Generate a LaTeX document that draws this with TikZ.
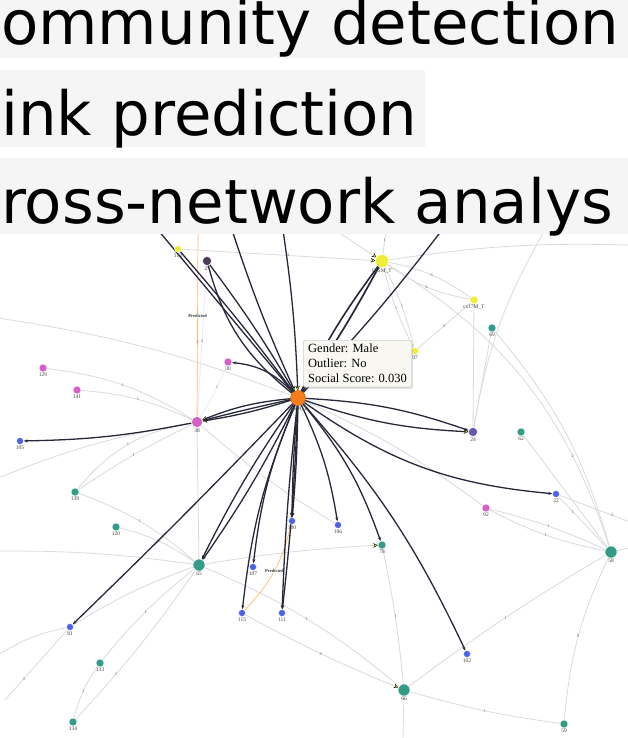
\documentclass[tikz,border=0pt]{standalone}
\usepackage{fontspec}
\setmainfont{Liberation Serif}
\newfontfamily\bandfont{DejaVu Sans}
\usetikzlibrary{arrows.meta,shadows}
\pgfdeclarelayer{background}
\pgfsetlayers{background,main}

\definecolor{tealnd}{RGB}{52,156,134}
\definecolor{bluend}{RGB}{78,98,232}
\definecolor{pinknd}{RGB}{212,96,200}
\definecolor{yellownd}{RGB}{240,238,52}
\definecolor{orangend}{RGB}{247,124,26}
\definecolor{purplend}{RGB}{106,88,176}
\definecolor{plumnd}{RGB}{76,62,88}
\definecolor{edgedark}{RGB}{38,40,58}
\definecolor{edgelight}{RGB}{218,218,222}
\definecolor{bandgray}{RGB}{245,245,245}
\definecolor{tipbg}{RGB}{248,247,241}

\begin{document}
\begin{tikzpicture}[
  x=1pt, y=-1pt,
  >=Stealth,
  nd/.style={circle,draw=white,line width=0.4pt,inner sep=0pt,minimum size=#1},
  tnode/.style={nd=8pt,fill=tealnd},
  bignode/.style={nd=12pt,fill=tealnd},
  bnode/.style={nd=7pt,fill=bluend},
  pnode/.style={nd=8pt,fill=pinknd},
  ynode/.style={nd=7pt,fill=yellownd},
  nlbl/.style={font=\fontsize{5.5}{5.5}\selectfont,text=black!75,inner sep=0.5pt,label distance=0pt},
  elbl/.style={font=\fontsize{4.5}{5}\selectfont,text=black!55,inner sep=0.5pt},
  plbl/.style={font=\fontsize{4.5}{5}\selectfont\bfseries,text=black!80,fill=white,inner sep=0.6pt},
  link/.style={draw=edgedark,line width=1.3pt},
  linkto/.style={link,-{Stealth[length=4pt,width=3pt]}},
  ytip/.style={-{Stealth[length=4.5pt,width=4.5pt,fill=yellownd,color=black,line width=0.3pt]}},
  weak/.style={draw=edgelight,line width=0.8pt},
  pinkline/.style={draw=pinknd!18,line width=0.8pt},
  pred/.style={draw=orange!55,line width=0.7pt},
  tip/.style={draw=black!30,fill=tipbg,rounded corners=1.5pt,align=left,
    font=\fontsize{12.5}{15}\selectfont,inner xsep=5pt,inner ysep=4pt,
    drop shadow={opacity=0.2,shadow xshift=1.2pt,shadow yshift=-1.8pt}},
  bandtxt/.style={anchor=base west,inner sep=0pt,font=\bandfont\fontsize{61}{61}\selectfont}
]
\useasboundingbox (0,0) rectangle (628,738);

% nodes
\foreach \n/\x/\y in {69/492/328,62/521/432,139/75/492,120/116/527,78/382/545,133/100/663,134/73/722,59/564/724}
  \node[tnode,label={[nlbl]below:\n}] (n\n) at (\x,\y) {};
\foreach \n/\x/\y in {58/611/552,65/199/565,66/404/690}
  \node[bignode,label={[nlbl]below:\n}] (n\n) at (\x,\y) {};
\foreach \n/\x/\y in {105/20/441,22/556/494,100/292/521,106/338/525,107/253/567,115/242/613,111/282/613,81/70/627,102/467/654}
  \node[bnode,label={[nlbl]below:\n}] (n\n) at (\x,\y) {};
\foreach \n/\x/\y in {129/43/368,141/77/390,30/228/362,92/486/508}
  \node[pnode,label={[nlbl]below:\n}] (n\n) at (\x,\y) {};
\node[pnode,minimum size=11pt,label={[nlbl]below:38}] (n38) at (197,422) {};
\node[ynode,label={[nlbl]below:113}] (n113) at (178,249) {};
\node[ynode,label={[nlbl]below:97}] (n97) at (415,351) {};
\node[ynode,minimum size=8pt,label={[nlbl]below:cs17M\_T}] (ncs) at (474,300) {};
\node[ynode,minimum size=13pt,label={[nlbl]below:60SM\_T}] (n60) at (382,261) {};
\node[nd=9pt,fill=plumnd,label={[nlbl]below:27}] (n27) at (207,261) {};
\node[nd=9pt,fill=purplend,label={[nlbl]below:24}] (n24) at (473,432) {};
\node[nd=15pt,fill=orangend,draw=orange!70!black,label={[nlbl]below:deaM\_T}] (c) at (298,398) {};

\coordinate (tA) at (158,230);
\coordinate (tC) at (232,230);
\coordinate (tD) at (283,230);
\coordinate (tE) at (442,230);
\coordinate (tG) at (545,230);
\coordinate (tH) at (198,230);
\coordinate (tI) at (386,230);
\coordinate (tJ) at (335,230);
\coordinate (rE1) at (630,522);
\coordinate (rE2) at (630,245);
\coordinate (rE3) at (630,548);
\coordinate (lW1) at (-2,478);
\coordinate (lW2) at (-2,551);
\coordinate (lW3) at (5,700);
\coordinate (lW4) at (-2,655);
\coordinate (lW5) at (-2,318);
\coordinate (bS1) at (403,740);

\begin{pgfonlayer}{background}
% light edges
\draw[weak] (n129) to[bend left=12] node[elbl]{1} (n38);
\draw[weak] (n141) to[bend left=10] node[elbl]{1} (n38);
\draw[weak] (lW1) to[bend left=6] (n38);
\draw[weak] (n139) to[bend left=20] node[elbl]{1} (n38);
\draw[weak] (n139) to[bend left=4] node[elbl]{1} (n38);
\draw[weak] (n139) to[bend left=10] node[elbl]{1} (n65);
\draw[weak] (n120) to[bend left=10] node[elbl]{1} (n65);
\draw[weak] (lW2) to[bend left=4] (n65);
\draw[weak] (n65) to[bend right=6] node[elbl]{1} (n133);
\draw[weak] (n65) to[bend left=4] node[elbl,pos=.7]{1} (n134);
\draw[weak] (n133) to[bend right=10] node[elbl]{1} (n134);
\draw[weak] (n81) -- node[elbl,pos=.7]{3} (lW3);
\draw[weak] (n81) to[bend right=10] (lW4);
\draw[weak] (n81) to[bend left=6] (n65);
\draw[weak,ytip] (n65) to[bend left=3] (n78);
\draw[weak] (n65) to[bend left=8] node[elbl]{1} (n66);
\draw[weak,ytip] (n115) to[bend right=3] node[elbl]{8} (n66);
\draw[weak] (n78) to[bend left=3] node[elbl]{1} (n66);
\draw[weak] (n66) -- (bS1);
\draw[weak] (n66) to[bend right=4] node[elbl]{1} (n59);
\draw[weak] (n66) to[bend left=3] node[elbl]{1} (n58);
\draw[weak] (n58) to[bend right=10] node[elbl]{8} (n59);
\draw[weak] (n58) -- node[elbl,pos=.7]{1} (n22);
\draw[weak] (n22) -- node[elbl,pos=.75]{3} (rE1);
\draw[weak] (n58) -- (rE3);
\draw[weak] (n92) to[bend left=5] node[elbl]{1} (n58);
\draw[weak] (n92) to[bend right=8] node[elbl]{1} (n58);
\draw[weak] (n62) -- (n58);
\draw[weak] (n69) to[bend left=12] (n58);
\draw[weak] (n58) to[bend right=20] node[elbl,pos=.25]{2} (n60);
\draw[weak] (tG) to[bend right=10] (n24);
\draw[weak] (ncs) -- (n24);
\draw[weak] (n69) -- (n24);
\draw[weak] (c) to[bend left=6] (n92);
\draw[weak] (n38) to[bend right=5] (n106);
\draw[weak] (n38) -- (n65);
\draw[weak] (lW5) to[bend left=6] (c);
\draw[pinkline] (n30) to[bend left=5] node[elbl,pos=.4]{1} (n38);
\draw[pinkline] (n27) -- node[elbl,pos=.5]{4} (n38);
\draw[weak,ytip] (n113) -- node[elbl,pos=.55]{3} (n60);
\draw[weak] (n60) to[bend left=12] node[elbl]{6} (ncs);
\draw[weak] (n60) to[bend right=12] node[elbl]{4} (ncs);
\draw[weak] (n60) to[bend left=5] (rE2);
\draw[weak] (n60) -- node[elbl,pos=.6]{1} (tI);
\draw[weak,ytip] (tJ) -- (n60);
\draw[weak] (ncs) -- node[elbl]{2} (n97);
\draw[weak] (n60) to[bend left=6] node[elbl]{1} (n97);
\draw[weak] (n60) to[bend right=6] node[elbl]{1} (n97);
% predicted
\draw[pred] (tH) -- node[plbl,pos=.46]{Predicted} node[elbl,pos=.6]{3} (n38);
\draw[pred] (n100) to[bend left=15] node[plbl]{Predicted} (n115);
% strong edges
\draw[link] (c) to[bend left=18] (n27);
\draw[link] (c) to[bend right=3] (n27);
\draw[link] (n113) to[bend left=2] (c);
\draw[link] (tA) -- (c);
\draw[link,ytip] (tC) to[bend right=3] (c);
\draw[link,ytip] (tD) to[bend left=3] (c);
\draw[link,line width=1.7pt] (n60) to[bend left=3] (c);
\draw[link,line width=1.6pt] (n60) to[bend right=5] (c);
\draw[link] (tE) to[bend left=3] (c);
\draw[linkto] (c) to[bend right=20] (n30);
\draw[link,ytip] (c) to[bend right=8] (n38);
\draw[link,ytip] (c) to[bend left=4] (n38);
\draw[linkto] (c) to[bend right=1] (n38);
\draw[linkto] (n38) to[bend left=5] (n105);
\draw[linkto] (c) to[bend left=8] (n24);
\draw[link,ytip] (c) to[bend right=8] (n24);
\draw[linkto] (c) to[bend right=15] (n22);
\draw[link,ytip] (c) to[bend right=2] (n100);
\draw[linkto] (c) to[bend left=2] (n100);
\draw[linkto] (c) to[bend left=8] (n106);
\draw[linkto] (c) to[bend left=10] (n78);
\draw[linkto] (c) to[bend left=8] (n102);
\draw[linkto] (c) to[bend right=8] (n107);
\draw[linkto] (c) to[bend right=8] (n115);
\draw[linkto] (c) to[bend right=2] (n111);
\draw[linkto] (c) to[bend left=2] (n111);
\draw[linkto] (c) to[bend right=4] (n65);
\draw[linkto] (c) to[bend left=4] (n65);
\draw[linkto] (c) to[bend left=1] (n81);
\end{pgfonlayer}

% hover box
\node[tip,anchor=north west] (hover) at (303,340) {Gender: Male\\Outlier: No\\Social Score: 0.030};

% header bands
\fill[white] (0,0) rectangle (628,234);
\fill[bandgray] (0,0) rectangle (628,58);
\fill[bandgray] (0,70) rectangle (425,147);
\fill[bandgray] (0,158) rectangle (628,234);
\node[bandtxt] (hl1) at (1,45) {ommunity detection};
\node[bandtxt] (hl2) at (1,136) {ink prediction};
\node[bandtxt] (hl3) at (1,223) {ross-network analys};

\end{tikzpicture}
\end{document}
